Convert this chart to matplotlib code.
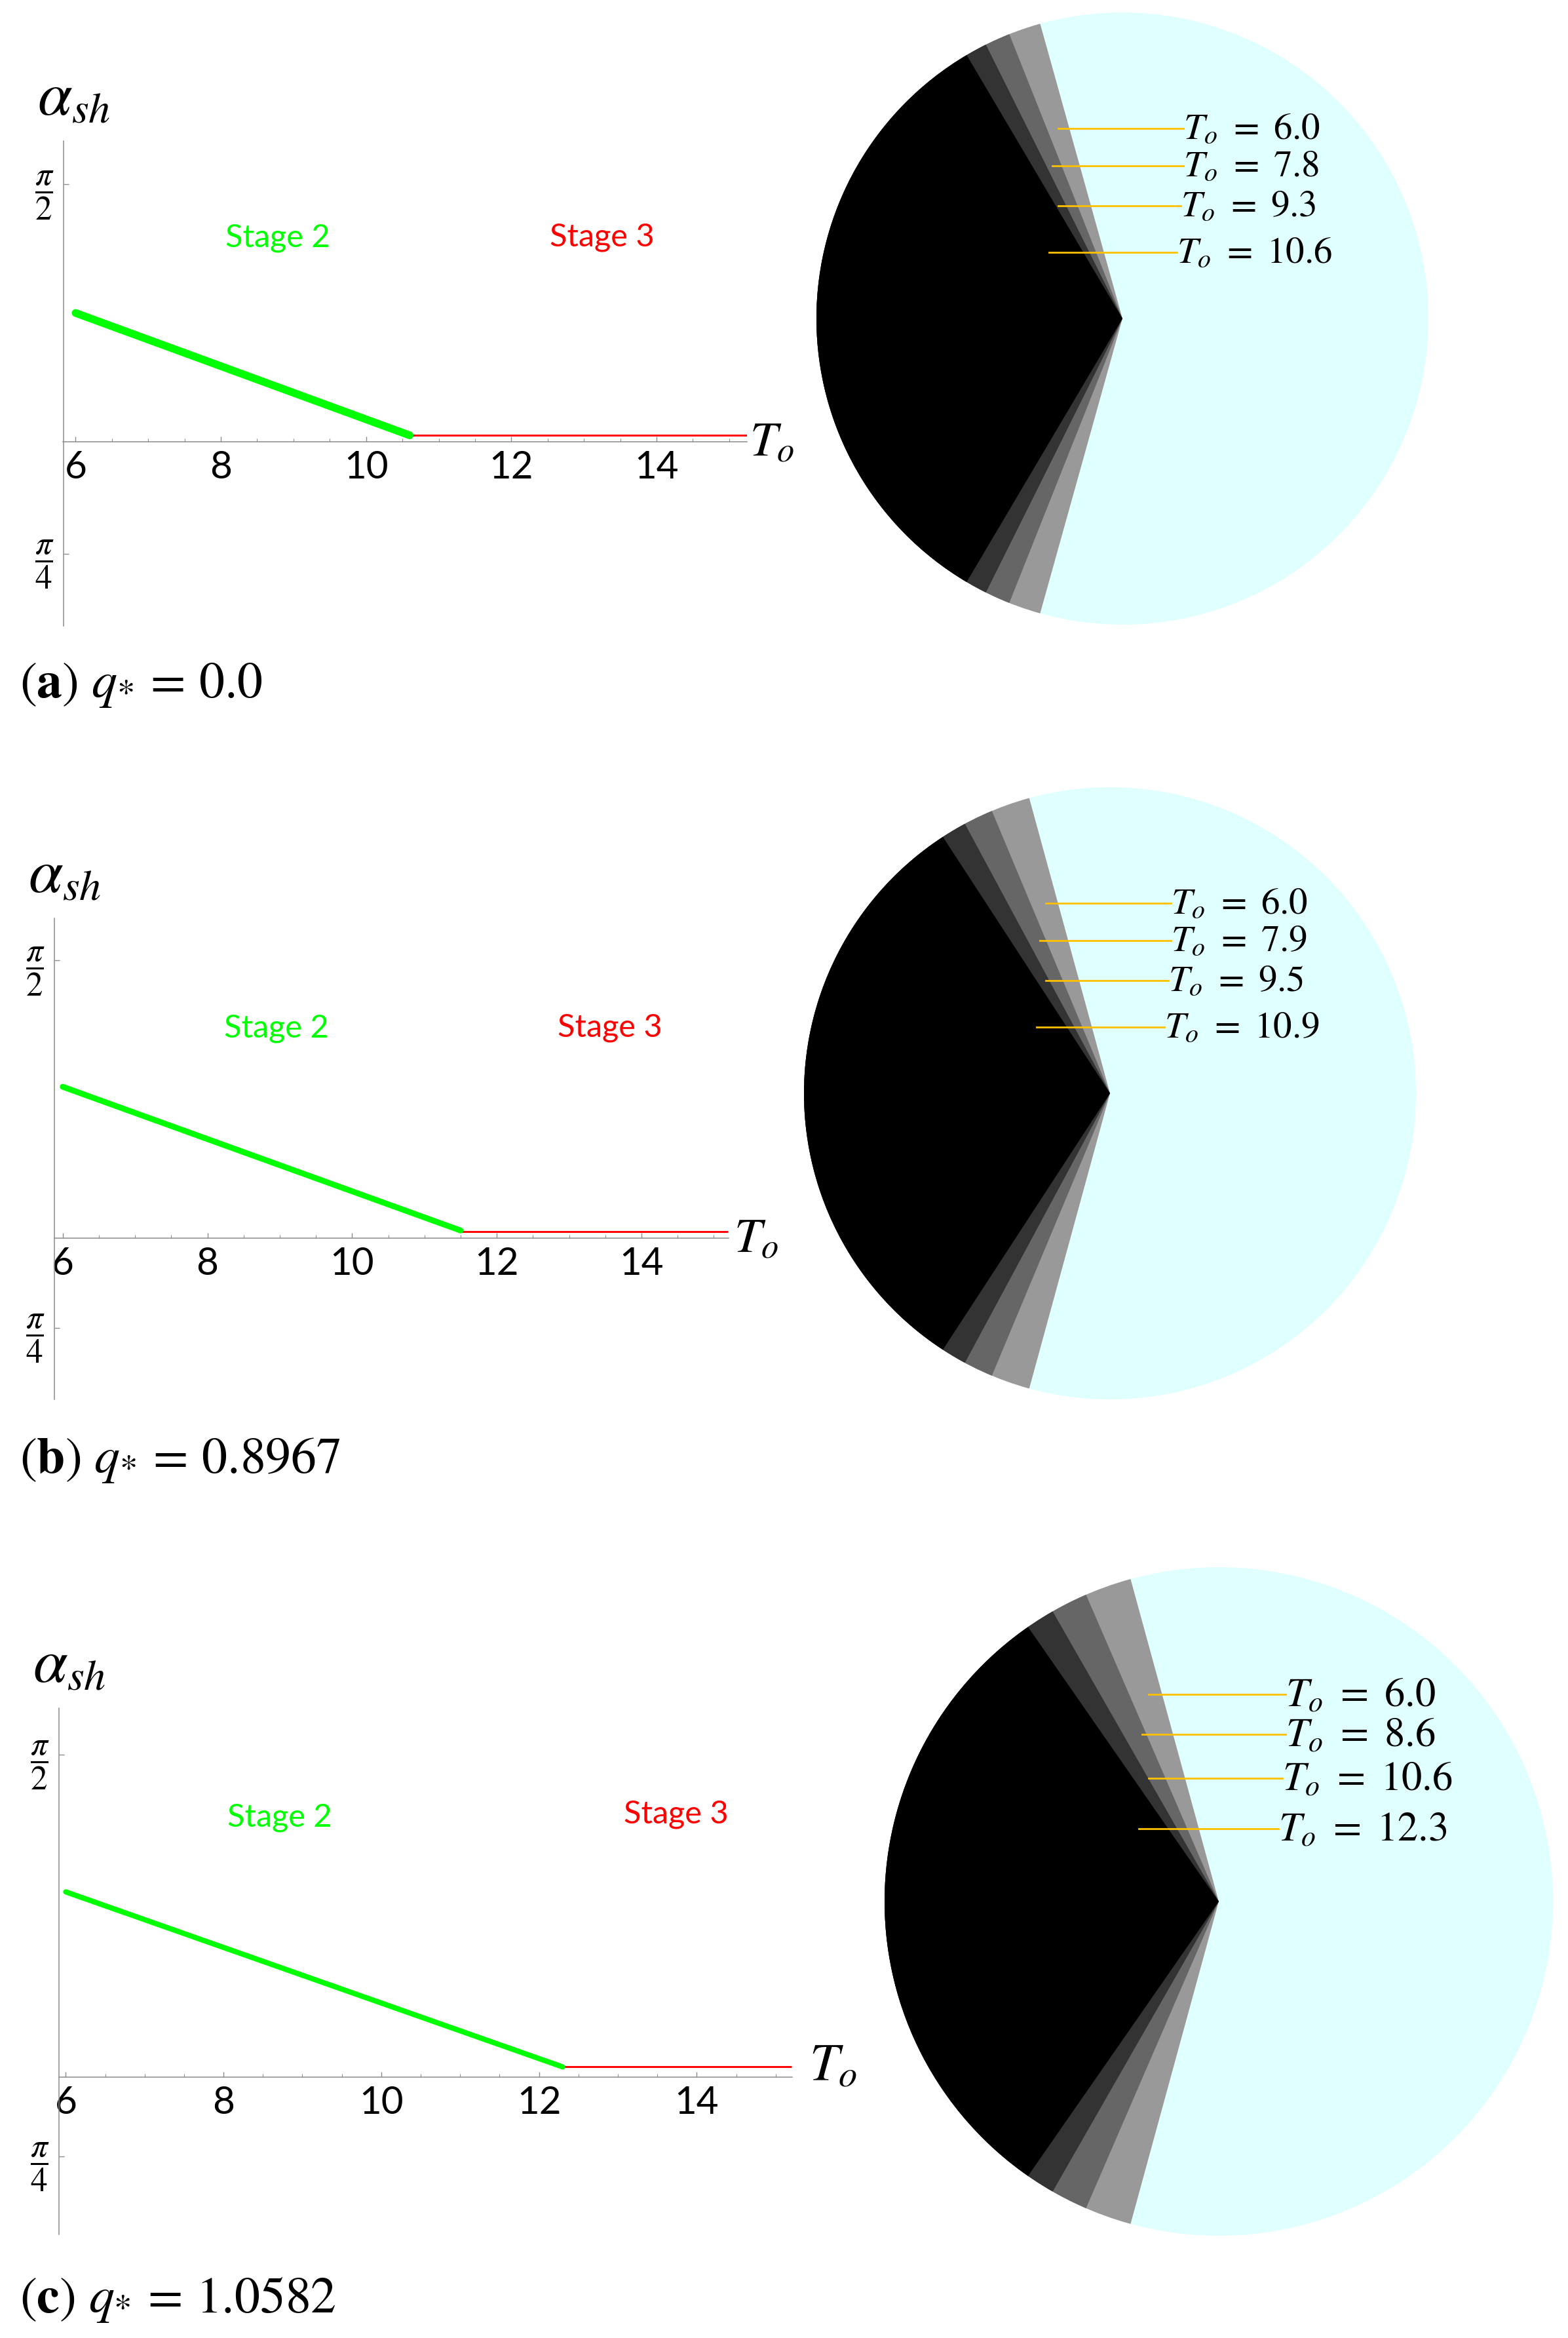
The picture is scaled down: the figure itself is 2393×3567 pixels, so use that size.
import numpy as np
import matplotlib
matplotlib.use("Agg")
import matplotlib.pyplot as plt
from matplotlib.patches import Wedge, Circle
from matplotlib.ticker import MultipleLocator

plt.rcParams["font.family"] = ["Lato", "DejaVu Sans"]
plt.rcParams["mathtext.fontset"] = "stix"

W, H = 2393, 3567

# --- dati (angoli in gradi) ---
PANNELLI = ["a", "b", "c"]
Q_STAR = ["0.0", "0.8967", "1.0582"]

# ramo verde (stage 2) e ramo rosso (stage 3) di alpha_sh(T_o)
T_STAGE2 = [[6.0, 10.6], [6.0, 11.5], [6.0, 12.3]]
A_STAGE2 = [[74.3, 59.4], [74.5, 56.9], [74.6, 55.0]]
T_STAGE3 = [[10.6, 15.25], [11.5, 15.2], [12.3, 15.2]]
A_STAGE3 = [[59.4, 59.4], [56.8, 56.8], [55.0, 55.0]]

# coni nel "pie": T_o delle etichette e semi-apertura del cono
T_CONO = [["6.0", "7.8", "9.3", "10.6"],
          ["6.0", "7.9", "9.5", "10.9"],
          ["6.0", "8.6", "10.6", "12.3"]]
A_CONO = [[74.4, 68.3, 63.5, 59.4],
          [74.7, 67.3, 61.7, 56.9],
          [74.7, 66.6, 60.2, 55.2]]

GRIGI = ["#999999", "#666666", "#333333", "#000000"]
CIANO = "#e0ffff"
ARANCIO = "#ffc000"
VERDE = "#00ff00"
ROSSO = "#ff0000"
ASSE = "#8c8c8c"

# --- impaginazione in pixel ---
# (x asse y, y cima, x fine asse x, y fondo), limiti in T e in gradi, quota asse x
BOX = [(96.5, 214.8, 1140, 955), (82.9, 1400.7, 1112, 2135.3), (89.5, 2605.7, 1209, 3409)]
XLIM = [(5.83, 15.245), (5.884, 15.205), (5.91, 15.21)]
YLIM = [(36.18, 95.27), (36.19, 95.16), (36.24, 95.2)]
ASSE_X = [58.61, 55.93, 53.85]
LW_VERDE = [8.5, 6.4, 5.8]
STAGE_POS = [((8.78, 83.4), (13.25, 83.5)),
             ((8.95, 81.65), (13.56, 81.7)),
             ((8.71, 82.9), (13.74, 83.3))]
TO_OFF = [(4, 0), (8, 0), (26, 18)]
PIE = [(1713, 486, 467), (1694, 1668, 467), (1860, 2901, 510)]
PIE_FS = [41, 41, 45]
DIDA_Y = [1046, 2228, 3509]
# linee di richiamo nel pie (unita' di raggio)
LY = [0.62, 0.50, 0.368, 0.217]
LX0 = [-0.21, -0.23, -0.21, -0.24]
LX1 = [0.20, 0.20, 0.19, 0.178]


def px_box(x0, y0, x1, y1):
    return [x0 / W, 1 - y1 / H, (x1 - x0) / W, (y1 - y0) / H]


fig = plt.figure(figsize=(W / 100, H / 100), dpi=100)

for i in range(3):
    x0, y0, x1, y1 = BOX[i]
    ax = fig.add_axes(px_box(x0, y0, x1, y1))
    ax.set_xlim(*XLIM[i])
    ax.set_ylim(*np.deg2rad(YLIM[i]))
    ax.patch.set_visible(False)
    for s in ["top", "right"]:
        ax.spines[s].set_visible(False)
    ax.spines["bottom"].set_position(("data", np.deg2rad(ASSE_X[i])))
    for s in ["left", "bottom"]:
        ax.spines[s].set_color(ASSE)
        ax.spines[s].set_linewidth(1.1)

    ax.plot(T_STAGE3[i], np.deg2rad(A_STAGE3[i]), color=ROSSO, lw=2.1,
            solid_capstyle="butt", zorder=3)
    ax.plot(T_STAGE2[i], np.deg2rad(A_STAGE2[i]), color=VERDE, lw=LW_VERDE[i],
            solid_capstyle="round", zorder=4)

    ax.set_xticks([6, 8, 10, 12, 14])
    ax.xaxis.set_minor_locator(MultipleLocator(0.5))
    ax.tick_params(axis="x", which="major", direction="in", length=6, width=1,
                   color=ASSE, labelsize=42, pad=9)
    ax.tick_params(axis="x", which="minor", direction="in", length=3.5, width=0.8,
                   color=ASSE)
    ax.set_yticks(np.deg2rad([45, 90]))
    ax.set_yticklabels([r"$\dfrac{\pi}{4}$", r"$\dfrac{\pi}{2}$"])
    ax.tick_params(axis="y", direction="in", length=6, width=1, color=ASSE,
                   labelsize=37, pad=10)

    (s2x, s2y), (s3x, s3y) = STAGE_POS[i]
    ax.text(s2x, np.deg2rad(s2y), "Stage 2", color=VERDE, fontsize=35,
            ha="center", va="center")
    ax.text(s3x, np.deg2rad(s3y), "Stage 3", color=ROSSO, fontsize=35,
            ha="center", va="center")

    ax.annotate(r"$\alpha_{sh}$", xy=(0, 1), xycoords="axes fraction",
                xytext=(16, 66), textcoords="offset pixels",
                ha="center", va="center", fontsize=68)
    dx, dy = TO_OFF[i]
    ax.annotate(r"$T_o$", xy=(XLIM[i][1], np.deg2rad(ASSE_X[i])), xycoords="data",
                xytext=(dx, dy), textcoords="offset pixels",
                ha="left", va="center", fontsize=54 if i < 2 else 58,
                annotation_clip=False)

    # pie dei coni
    cx, cy, r = PIE[i]
    ap = fig.add_axes(px_box(cx - r, cy - r, cx + r, cy + r))
    ap.set_xlim(-1, 1)
    ap.set_ylim(-1, 1)
    ap.axis("off")
    ap.add_patch(Circle((0, 0), 1, facecolor=CIANO, edgecolor="none"))
    for a, col in zip(A_CONO[i], GRIGI):
        ap.add_patch(Wedge((0, 0), 1, 180 - a, 180 + a, facecolor=col,
                           edgecolor="none"))
    for k, t in enumerate(T_CONO[i]):
        ap.plot([LX0[k], LX1[k]], [LY[k], LY[k]], color=ARANCIO, lw=2)
        ap.text(LX1[k], LY[k], r"$T_o\ =\ %s$" % t, ha="left", va="center",
                fontsize=PIE_FS[i])

    fig.text(30 / W, 1 - DIDA_Y[i] / H,
             r"$(\mathbf{%s})\ q_{*}\,=\,%s$" % (PANNELLI[i], Q_STAR[i]),
             ha="left", va="center", fontsize=56)

fig.savefig("out.png", dpi=100, facecolor="white")
